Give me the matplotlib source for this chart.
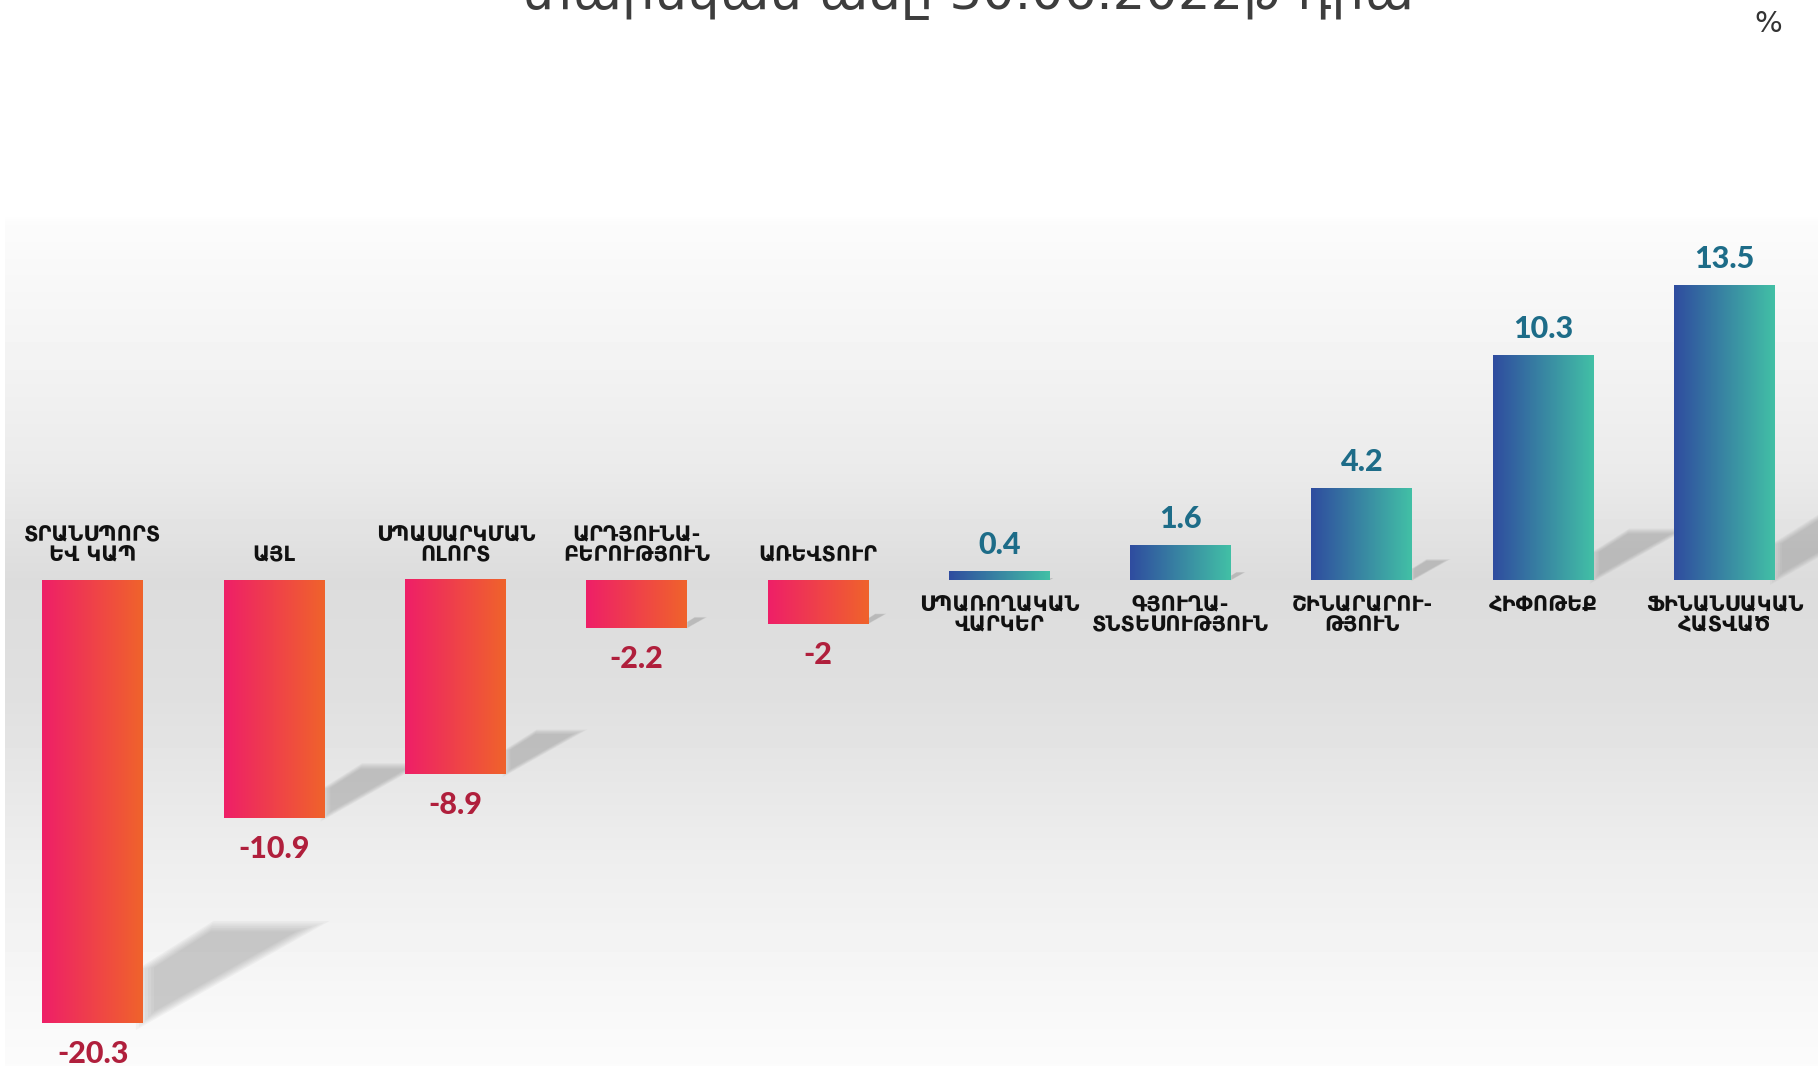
import numpy as np
import matplotlib.pyplot as plt
from matplotlib.colors import to_rgb
from matplotlib.patches import Polygon

# chart data
categories = ["ՏՐԱՆՍՊՈՐՏ\nԵՎ ԿԱՊ", "ԱՅԼ", "ՍՊԱՍԱՐԿՄԱՆ\nՈԼՈՐՏ", "ԱՐԴՅՈՒՆԱ-\nԲԵՐՈՒԹՅՈՒՆ",
              "ԱՌԵՎՏՈՒՐ", "ՍՊԱՌՈՂԱԿԱՆ\nՎԱՐԿԵՐ", "ԳՅՈՒՂԱ-\nՏՆՏԵՍՈՒԹՅՈՒՆ",
              "ՇԻՆԱՐԱՐՈՒ-\nԹՅՈՒՆ", "ՀԻՓՈԹԵՔ", "ՖԻՆԱՆՍԱԿԱՆ\nՀԱՏՎԱԾ"]
values = [-20.3, -10.9, -8.9, -2.2, -2, 0.4, 1.6, 4.2, 10.3, 13.5]
value_labels = ["-20.3", "-10.9", "-8.9", "-2.2", "-2", "0.4", "1.6", "4.2", "10.3", "13.5"]
title_text = "տարեկան աճը 30.06.2022թ դրա"
unit_text = "%"

W, H = 1818, 1066
fig = plt.figure(figsize=(W / 100, H / 100), dpi=100)

# soft grey background band
bg = fig.add_axes([5 / W, 0, 1 - 5 / W, 1])
stop_px = [0, 215, 222, 350, 470, 580, 700, 850, 1000, 1066]
stop_val = [1, 1, 0.985, 0.955, 0.92, 0.862, 0.878, 0.93, 0.97, 0.985]
rows = np.interp(np.arange(H), stop_px, stop_val)
bg.imshow(np.repeat(rows[:, None], 2, axis=1), cmap="gray", vmin=0, vmax=1,
          aspect="auto", extent=(0, 1, 0, 1), origin="upper")
bg.axis("off")

ax = fig.add_axes([0, 0, 1, 1])
ax.patch.set_alpha(0)
x = np.arange(len(values))
bar_w = 0.556
bars = ax.bar(x, values, width=bar_w, color="none", zorder=3)


def gradient(c1, c2, n=256):
    a, b = np.array(to_rgb(c1)), np.array(to_rgb(c2))
    t = np.linspace(0, 1, n)[:, None]
    return (a + (b - a) * t)[None, :, :]


neg_grad = gradient("#ee1f68", "#f0632b")
pos_grad = gradient("#2f4c9f", "#42c0a6")

for xi, v, p in zip(x, values, bars.patches):
    x0, y0 = p.get_xy()
    w, h = p.get_width(), p.get_height()
    ax.imshow(neg_grad if v < 0 else pos_grad, extent=(x0, x0 + w, min(y0, y0 + h), max(y0, y0 + h)),
              aspect="auto", interpolation="bicubic", zorder=3)

    # diagonal drop shadow
    xr = x0 + w
    base = v if v < 0 else 0
    dx, dy = 0.047 * abs(v), 0.22 * abs(v)
    pts = np.array([(xr, base), (xr, base + 0.55 * dy), (xr + 0.4 * dx, base + dy), (xr + dx, base + dy)])
    c = pts.mean(axis=0)
    for k in range(7):
        s = 1.12 - 0.05 * k
        ax.add_patch(Polygon(c + (pts - c) * s, closed=True, facecolor="#8a8a8a",
                             edgecolor="none", alpha=0.07, zorder=2))

    # value + category labels
    if v < 0:
        ax.text(xi, v - 0.8, value_labels[xi], ha="center", va="top", color="#b01f3c",
                fontsize=22, fontweight="black", family="Lato")
        ax.text(xi, 0.85, categories[xi], ha="center", va="baseline", color="#111111",
                fontsize=15, fontweight="bold", linespacing=1.0, family="DejaVu Sans")
    else:
        ax.text(xi, v + 0.8, value_labels[xi], ha="center", va="baseline", color="#1d6c88",
                fontsize=22, fontweight="black", family="Lato")
        ax.text(xi, -0.7, categories[xi], ha="center", va="top", color="#111111",
                fontsize=15, fontweight="bold", linespacing=1.0, family="DejaVu Sans")

px_per_x = 181.3
px_per_y = 21.8
x_left = -92.8 / px_per_x
ax.set_xlim(x_left, x_left + W / px_per_x)
ax.set_ylim(-(H - 580) / px_per_y, 580 / px_per_y)
ax.axis("off")

fig.text(968 / W, 1 - 9 / H, title_text, ha="center", va="baseline", fontsize=37,
         color="#3d3d3d", family="DejaVu Sans")
fig.text(1768 / W, 1 - 24 / H, unit_text, ha="center", va="center", fontsize=21,
         color="#333333", family="DejaVu Sans")

fig.savefig("out.png", dpi=100)
